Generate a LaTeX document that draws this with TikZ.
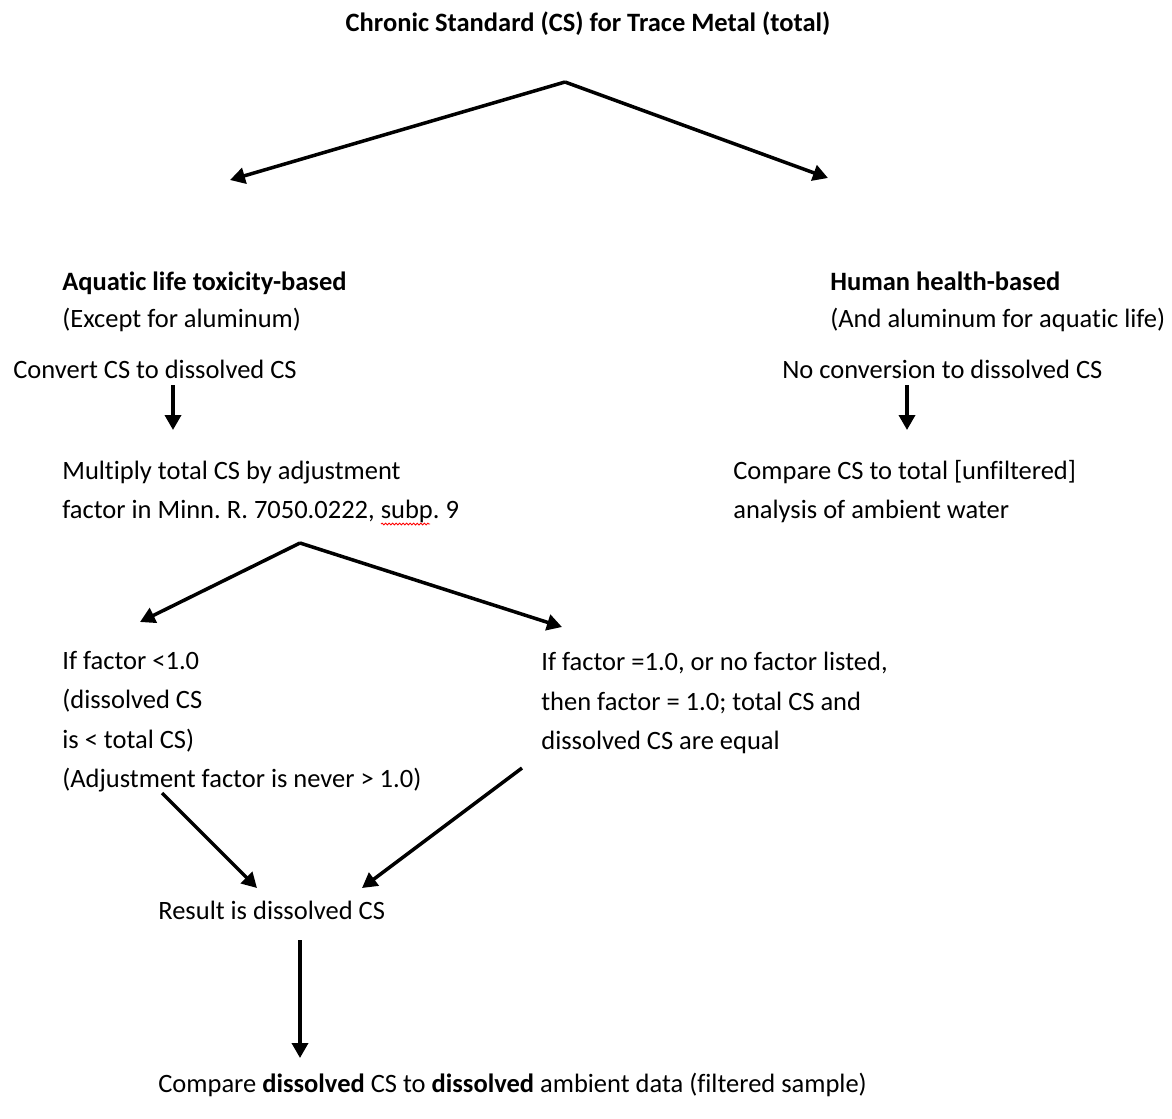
\documentclass[tikz,border=0pt]{standalone}
\usepackage{fontspec}
\setmainfont{Carlito}[Ligatures=NoCommon]
\usepackage{tikz}
\usetikzlibrary{arrows.meta,decorations.pathmorphing}
\frenchspacing
\tikzstyle{textblock} = [anchor=base west,inner sep=0pt,align=left,font=\fontsize{15.08}{22.2}\selectfont]
\tikzstyle{flowarrow} = [line width=2pt,-{Triangle[length=0.3cm,width=0.32cm]}]

\begin{document}
\begin{tikzpicture}
  \useasboundingbox (0,0) rectangle (23.44,-22.36);
  \node[textblock,anchor=base,font=\fontsize{15.08}{22.2}\selectfont\bfseries] (title) at (11.76,-0.62) {Chronic Standard (CS) for Trace Metal (total)};

  % Two branches (base = last line)
  \node[textblock] (aquatic) at (1.24,-6.54) {\textbf{Aquatic life toxicity-based}\\[-0.06cm](Except for aluminum)};
  \node[textblock] (human) at (16.6,-6.54) {\textbf{Human health-based}\\[-0.06cm](And aluminum for aquatic life)};
  \node[textblock] (convert) at (0.26,-7.56) {Convert CS to dissolved CS};
  \node[textblock] (noconv) at (15.64,-7.56) {No conversion to dissolved CS};
  \node[textblock] (multiply) at (1.24,-10.36) {Multiply total CS by adjustment\\factor in Minn. R. 7050.0222, subp. 9};
  \node[textblock] (comparetotal) at (14.66,-10.36) {Compare CS to total [unfiltered]\\analysis of ambient water};

  % Adjustment factor
  \node[textblock] (lessone) at (1.24,-15.74) {If factor <1.0\\(dissolved CS\\is < total CS)\\(Adjustment factor is never > 1.0)};
  \node[textblock] (equalone) at (10.82,-14.98) {If factor =1.0, or no factor listed,\\then factor = 1.0; total CS and\\dissolved CS are equal};
  \node[textblock] (result) at (3.16,-18.38) {Result is dissolved CS};
  \node[textblock] (comparedis) at (3.16,-21.84) {Compare \textbf{dissolved} CS to \textbf{dissolved} ambient data (filtered sample)};

  % Arrow ends
  \coordinate (top) at (11.3,-1.64);
  \coordinate (topleft) at (4.6,-3.6);
  \coordinate (topright) at (16.56,-3.56);
  \coordinate (convertstart) at (3.46,-7.7);
  \coordinate (convertend) at (3.46,-8.6);
  \coordinate (noconvstart) at (18.14,-7.7);
  \coordinate (noconvend) at (18.14,-8.6);
  \coordinate (split) at (6,-10.86);
  \coordinate (splitleft) at (2.8,-12.44);
  \coordinate (splitright) at (11.24,-12.54);
  \coordinate (lessstart) at (3.24,-15.86);
  \coordinate (equalstart) at (10.44,-15.36);
  \coordinate (resultleft) at (5.14,-17.76);
  \coordinate (resultright) at (7.24,-17.76);
  \coordinate (resultstart) at (6,-18.8);
  \coordinate (resultend) at (6,-21.16);

  \draw[flowarrow] (top) -- (topleft);
  \draw[flowarrow] (top) -- (topright);
  \draw[flowarrow] (convertstart) -- (convertend);
  \draw[flowarrow] (noconvstart) -- (noconvend);
  \draw[flowarrow] (split) -- (splitleft);
  \draw[flowarrow] (split) -- (splitright);
  \draw[flowarrow] (lessstart) -- (resultleft);
  \draw[flowarrow] (equalstart) -- (resultright);
  \draw[flowarrow] (resultstart) -- (resultend);

  % Spelling mark
  \draw[red,line width=0.5pt,decorate,decoration={snake,amplitude=0.5pt,segment length=2pt}] (7.62,-10.48) -- (8.6,-10.48);
\end{tikzpicture}
\end{document}
